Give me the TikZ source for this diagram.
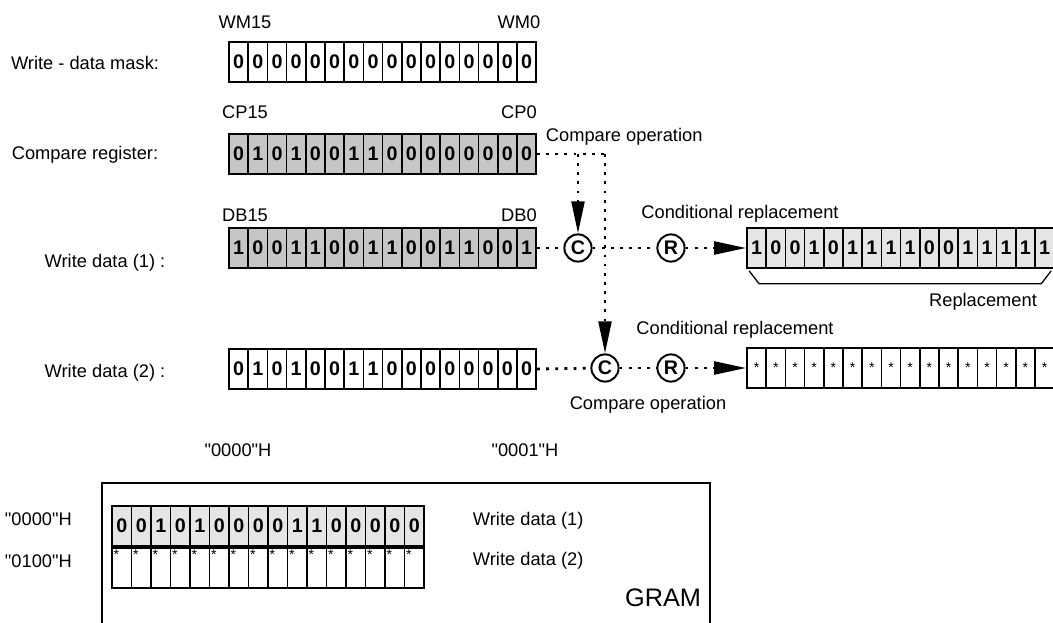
\documentclass[tikz,border=0pt]{standalone}
\usepackage{fontspec}
\setmainfont{Liberation Sans}
\usetikzlibrary{positioning, arrows.meta}

\begin{document}
\begin{tikzpicture}[
    x=0.025cm, y=-0.025cm,
    every node/.style={font=\fontsize{13}{15}\selectfont},
    bit/.style={draw, line width=1.2pt, minimum width=0.48cm, minimum height=1cm, inner sep=0pt, font=\fontsize{14}{16}\selectfont\bfseries},
    dense/.style={bit, fill=gray!45},
    light/.style={bit, fill=gray!20},
    starcell/.style={bit, font=\fontsize{10}{11}\selectfont},
    op/.style={draw, circle, line width=1.4pt, minimum size=0.68cm, inner sep=0pt, font=\fontsize{14}{16}\selectfont\bfseries},
    dotline/.style={line width=2pt, dash pattern=on 2pt off 4.5pt},
    tip/.style={-{Triangle[length=0.8cm, width=0.32cm]}}
]
    \clip (0,0) rectangle (1053,623);

    % registers on the left
    \foreach \b [count=\i] in {0,0,0,0,0,0,0,0,0,0,0,0,0,0,0,0}
        \node[bit] (wm\i) at ({219.4+\i*19.2}, 62) {\b};
    \foreach \b [count=\i] in {0,1,0,1,0,0,1,1,0,0,0,0,0,0,0,0}
        \node[dense] (cp\i) at ({219.4+\i*19.2}, 154) {\b};
    \foreach \b [count=\i] in {1,0,0,1,1,0,0,1,1,0,0,1,1,0,0,1}
        \node[dense] (wdA\i) at ({219.4+\i*19.2}, 248) {\b};
    \foreach \b [count=\i] in {0,1,0,1,0,0,1,1,0,0,0,0,0,0,0,0}
        \node[bit] (wdB\i) at ({219.4+\i*19.2}, 369) {\b};

    % row labels
    \node (lmask) at (85,63) {Write - data mask:};
    \node (lcp) at (85,155) {Compare register:};
    \node (lwdA) at (105,263) {Write data (1) :};
    \node (lwdB) at (105,373) {Write data (2) :};
    \node (twm15) at (245,22) {WM15};
    \node (twm0) at (519,22) {WM0};
    \node (tcp15) at (245,112) {CP15};
    \node (tcp0) at (519,112) {CP0};
    \node (tdb15) at (245,215) {DB15};
    \node (tdb0) at (519,215) {DB0};

    % compare and replace
    \node[op] (c1) at (578,248) {C};
    \node[op] (r1) at (671,248) {R};
    \node[op] (c2) at (605,368) {C};
    \node[op] (r2) at (671,368) {R};
    \coordinate (tap1) at (578,154);
    \coordinate (tap2) at (605,154);
    \node[anchor=west] (cmpA) at (541,137) {Compare operation};
    \node (cmpB) at (648,405) {Compare operation};
    \node (condA) at (740,214) {Conditional replacement};
    \node (condB) at (735,330) {Conditional replacement};

    % results
    \foreach \b [count=\i] in {1,0,0,1,0,1,1,1,1,0,0,1,1,1,1,1}
        \node[light] (repA\i) at ({737.4+\i*19.2}, 248) {\b};
    \foreach \i in {1,...,16}
        \node[starcell] (repB\i) at ({737.4+\i*19.2}, 368) {\raisebox{-5pt}{*}};
    \draw[line width=0.9pt] ([shift={(3,2)}]repA1.south west) -- ++(10,13) -- ++(282,0) -- ++(10,-13);
    \node (lrep) at (983,302) {Replacement};

    % dotted paths
    \draw[dotline] (cp16.east) -- (tap2);
    \draw[dotline, tip] (tap1) -- (c1);
    \draw[dotline, tip] (tap2) -- (c2);
    \draw[dotline] (wdA16.east) -- (c1);
    \draw[dotline] (c1) -- (r1);
    \draw[dotline, tip] (r1) -- (repA1.west);
    \draw[dotline] (wdB16.east) -- (c2);
    \draw[dotline] (c2) -- (r2);
    \draw[dotline, tip] (r2) -- (repB1.west);

    % GRAM
    \draw[line width=1.2pt] (102,640) -- (102,483) -- (710,483) -- (710,640);
    \node (ga0) at (238,450) {\textquotedbl0000\textquotedbl H};
    \node (ga1) at (525,450) {\textquotedbl0001\textquotedbl H};
    \node[anchor=west] (ra0) at (0,519) {\textquotedbl0000\textquotedbl H};
    \node[anchor=west] (ra1) at (0,561) {\textquotedbl0100\textquotedbl H};
    \foreach \b [count=\i] in {0,0,1,0,1,0,0,0,0,1,1,0,0,0,0,0}
        \node[light] (gA\i) at ({102.25+\i*19.5}, 526) {\b};
    \foreach \i in {1,...,16} {
        \node[starcell] (gB\i) at ({102.25+\i*19.5}, 568) {};
        \node[anchor=north west, inner sep=1.5pt, font=\fontsize{10}{11}\selectfont] (gs\i) at (gB\i.north west) {*};
    }
    \node[anchor=west] (lgA) at (468,521) {Write data (1)};
    \node[anchor=west] (lgB) at (468,561) {Write data (2)};
    \node[anchor=east, font=\fontsize{18}{20}\selectfont] (gram) at (706,598) {GRAM};
\end{tikzpicture}
\end{document}
